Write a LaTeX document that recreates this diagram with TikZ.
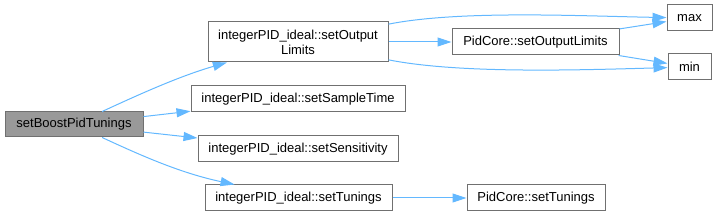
\documentclass[tikz,border=0pt]{standalone}
\usepackage{fontspec}
\setmainfont{Liberation Sans}
\usetikzlibrary{arrows.meta}
\definecolor{edgeblue}{HTML}{63B8FF}
\definecolor{bordergray}{HTML}{707070}
\definecolor{mainfill}{HTML}{999999}
\tikzset{
  fn/.style={draw=bordergray, line width=1pt, fill=white, inner sep=0pt, font=\fontsize{13}{15}\selectfont, align=center},
  mainfn/.style={fn, fill=mainfill},
  call/.style={draw=edgeblue, line width=1pt, -{Triangle[length=14pt,width=9pt]}}
}
\begin{document}
\begin{tikzpicture}[x=1pt,y=-1pt]
\useasboundingbox (0,0) rectangle (718,216);
\node[mainfn, minimum width=138pt, minimum height=25pt] (boost) at (74,124.5) {setBoostPidTunings};
\node[fn, minimum width=180pt, minimum height=40pt] (sol) at (298,42) {integerPID\_ideal::setOutput\\Limits};
\node[fn, minimum width=214pt, minimum height=26pt] (sst) at (298,99) {integerPID\_ideal::setSampleTime};
\node[fn, minimum width=200pt, minimum height=26pt] (sens) at (298,149) {integerPID\_ideal::setSensitivity};
\node[fn, minimum width=187pt, minimum height=26pt] (tun) at (298.5,198) {integerPID\_ideal::setTunings};
\node[fn, minimum width=167pt, minimum height=26pt] (pcol) at (535.5,42) {PidCore::setOutputLimits};
\node[fn, minimum width=45pt, minimum height=26pt] (max) at (689.5,18) {max};
\node[fn, minimum width=43pt, minimum height=26pt] (min) at (689.5,67) {min};
\node[fn, minimum width=138pt, minimum height=26pt] (pct) at (536,198) {PidCore::setTunings};

\draw[call] (boost) .. controls (140,94) and (180,76) .. (sol);
\draw[call] (boost) -- (sst);
\draw[call] (boost) -- (sens);
\draw[call] (boost) .. controls (140,155) and (180,173) .. (tun);
\draw[call] (sol) .. controls (460,10) and (580,16) .. (max);
\draw[call] (sol) -- (pcol);
\draw[call] (sol) .. controls (460,74) and (580,70) .. (min);
\draw[call] (pcol) -- (max);
\draw[call] (pcol) -- (min);
\draw[call] (tun) -- (pct);
\end{tikzpicture}
\end{document}
